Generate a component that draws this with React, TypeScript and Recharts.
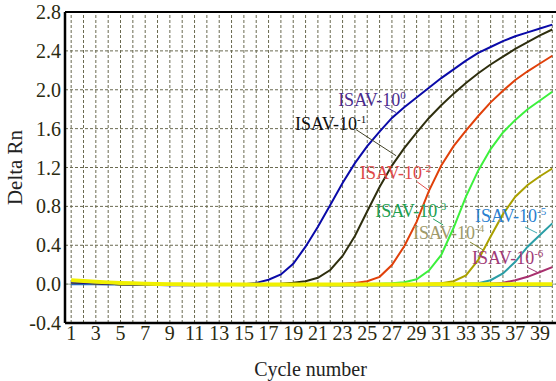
import {
  LineChart,
  Line,
  XAxis,
  YAxis,
  CartesianGrid,
  ReferenceLine,
  ReferenceDot,
} from "recharts";

const cycles = [
  1, 2, 3, 4, 5, 6, 7, 8, 9, 10, 11, 12, 13, 14, 15, 16, 17, 18, 19, 20,
  21, 22, 23, 24, 25, 26, 27, 28, 29, 30, 31, 32, 33, 34, 35, 36, 37, 38, 39, 40,
];

const xTicks = [1, 3, 5, 7, 9, 11, 13, 15, 17, 19, 21, 23, 25, 27, 29, 31, 33, 35, 37, 39];
const yTicks = [-0.4, 0, 0.4, 0.8, 1.2, 1.6, 2.0, 2.4, 2.8];

// Delta Rn per cycle
const isav0 = [
  0.02, 0.015, 0.01, 0.005, 0, -0.005, -0.008, -0.01, -0.012, -0.012,
  -0.012, -0.01, -0.008, -0.005, 0.0, 0.013, 0.045, 0.1, 0.21, 0.385,
  0.59, 0.815, 1.04, 1.245, 1.42, 1.57, 1.71, 1.82, 1.92, 2.02,
  2.12, 2.21, 2.3, 2.38, 2.44, 2.5, 2.55, 2.59, 2.63, 2.67,
];
const isav1 = [
  0.02, 0.015, 0.01, 0.005, 0, 0, -0.002, -0.003, -0.004, -0.004,
  -0.004, -0.003, -0.002, -0.002, 0, 0, 0.002, 0.005, 0.015, 0.03,
  0.065, 0.145, 0.29, 0.495, 0.75, 1.0, 1.22, 1.4, 1.56, 1.71,
  1.84, 1.96, 2.07, 2.17, 2.26, 2.34, 2.42, 2.49, 2.56, 2.62,
];
const isav2 = [
  0.02, 0.015, 0.01, 0.005, 0, 0, 0, -0.002, -0.003, -0.003,
  -0.003, -0.003, -0.002, -0.002, -0.001, 0, 0, 0, 0, 0,
  0, 0.002, 0.005, 0.012, 0.03, 0.075, 0.196, 0.39, 0.64, 0.96,
  1.22, 1.42, 1.58, 1.73, 1.87, 1.99, 2.1, 2.19, 2.27, 2.35,
];
const isav3 = [
  0.02, 0.015, 0.01, 0.005, 0, 0, 0, 0, 0, 0,
  0, 0, 0, 0, 0, 0, 0, 0, 0, 0,
  0, 0, 0, 0, 0.002, 0.005, 0.01, 0.02, 0.05, 0.14,
  0.3, 0.58, 0.9, 1.17, 1.39, 1.56, 1.69, 1.8, 1.89, 1.98,
];
const isav4 = [
  0.02, 0.015, 0.01, 0.005, 0, 0, 0, 0, 0, 0,
  0, 0, 0, 0, 0, 0, 0, 0, 0, 0,
  0, 0, 0, 0, 0, 0, 0, 0, 0.002, 0.005,
  0.01, 0.03, 0.09, 0.25, 0.49, 0.72, 0.9, 1.02, 1.11, 1.19,
];
const isav5 = [
  0.02, 0.015, 0.01, 0.005, 0, 0, 0, 0, 0, 0,
  0, 0, 0, 0, 0, 0, 0, 0, 0, 0,
  0, 0, 0, 0, 0, 0, 0, 0, 0, 0,
  0, 0.002, 0.005, 0.01, 0.04, 0.11, 0.23, 0.385, 0.505, 0.625,
];
const isav6 = [
  0.02, 0.015, 0.01, 0.005, 0, 0, 0, 0, 0, 0,
  0, 0, 0, 0, 0, 0, 0, 0, 0, 0,
  0, 0, 0, 0, 0, 0, 0, 0, 0, 0,
  0, 0, 0, 0, 0.005, 0.015, 0.04, 0.075, 0.125, 0.175,
];
const ntc = [
  0.0, 0.0, -0.002, -0.004, -0.005, -0.006, -0.007, -0.008, -0.008, -0.009,
  -0.009, -0.01, -0.01, -0.01, -0.011, -0.011, -0.011, -0.012, -0.012, -0.012,
  -0.012, -0.013, -0.013, -0.013, -0.013, -0.014, -0.014, -0.014, -0.014, -0.015,
  -0.015, -0.015, -0.015, -0.016, -0.016, -0.016, -0.017, -0.017, -0.018, -0.018,
];
const baseline = [
  0.04, 0.032, 0.025, 0.018, 0.012, 0.008, 0.004, 0.002, 0, -0.002,
  -0.003, -0.004, -0.005, -0.005, -0.005, -0.005, -0.005, -0.005, -0.005, -0.005,
  -0.005, -0.005, -0.005, -0.004, -0.004, -0.004, -0.003, -0.003, -0.003, -0.002,
  -0.002, -0.002, -0.001, -0.001, -0.001, 0, 0, 0, 0, 0,
];

const data = cycles.map((c, i) => ({
  cycle: c,
  s0: isav0[i],
  s1: isav1[i],
  s2: isav2[i],
  s3: isav3[i],
  s4: isav4[i],
  s5: isav5[i],
  s6: isav6[i],
  ntc: ntc[i],
  base: baseline[i],
}));

const series = [
  { key: "ntc", color: "#2a6ab8", width: 2 },
  { key: "s6", color: "#a8306e", width: 2 },
  { key: "s5", color: "#2a9ea6", width: 2 },
  { key: "s4", color: "#aaa000", width: 2 },
  { key: "s3", color: "#3cf03c", width: 2 },
  { key: "s2", color: "#e0400a", width: 2 },
  { key: "s1", color: "#2e2e0e", width: 2 },
  { key: "s0", color: "#0a0aa8", width: 2 },
  { key: "base", color: "#f0f000", width: 4 },
];

// callout text (data coords of text start) and leader line
const callouts = [
  { exp: "0", tx: 22.64, ty: 1.837, color: "#4a2a8c", line: "#4a3a9a", a: [26.45, 1.827], b: [27.34, 1.765] },
  { exp: "-1", tx: 19.15, ty: 1.589, color: "#111111", line: "#44442a", a: [24.1, 1.589], b: [27.34, 1.321] },
  { exp: "-2", tx: 24.42, ty: 1.084, color: "#e04848", line: "#e05050", a: [29.04, 1.053], b: [29.93, 0.97] },
  { exp: "-3", tx: 25.64, ty: 0.691, color: "#20a050", line: "#20a060", a: [30.34, 0.671], b: [31.15, 0.609] },
  { exp: "-4", tx: 28.71, ty: 0.464, color: "#a09a6a", line: "#8a8a30", a: [33.33, 0.433], b: [34.39, 0.351] },
  { exp: "-5", tx: 33.74, ty: 0.64, color: "#2a7fd0", line: "#3aaab0", a: [37.79, 0.588], b: [38.76, 0.526] },
  { exp: "-6", tx: 33.5, ty: 0.206, color: "#a03a78", line: "#a03a78", a: [37.95, 0.175], b: [38.76, 0.124] },
];

const serif = "'Liberation Serif', 'Times New Roman', serif";
const gridColor = "#6a6a50";

export default function App() {
  return (
    <div style={{ position: "absolute", left: 0, top: 0, background: "#fff" }}>
      <LineChart
        width={556}
        height={381}
        data={data}
        margin={{ top: 12, right: 0, bottom: 0, left: 0 }}
      >
        <CartesianGrid vertical={false} stroke={gridColor} strokeDasharray="3 2" />
        {cycles.map((c) => (
          <ReferenceLine key={c} x={c} stroke={gridColor} strokeDasharray="3 2" />
        ))}
        <ReferenceLine y={0} stroke="#98aa98" strokeWidth={1} />
        <ReferenceLine y={2.8} stroke="#000" strokeWidth={2} />
        <XAxis
          dataKey="cycle"
          type="number"
          domain={[0.5, 40.3]}
          ticks={xTicks}
          interval={0}
          height={58}
          tickLine={false}
          tickSize={0}
          tickMargin={3}
          axisLine={{ stroke: "#000", strokeWidth: 2.5 }}
          tick={{ fill: "#2a2a10", fontSize: 20, fontFamily: serif }}
          label={{
            value: "Cycle number",
            position: "insideBottom",
            offset: 5,
            fill: "#222",
            fontSize: 20,
            fontFamily: serif,
          }}
        />
        <YAxis
          type="number"
          domain={[-0.4, 2.8]}
          ticks={yTicks}
          interval={0}
          width={65}
          tickLine={false}
          tickSize={0}
          tickMargin={4}
          axisLine={{ stroke: "#000", strokeWidth: 2.5 }}
          tickFormatter={(v: number) => v.toFixed(1)}
          tick={{ fill: "#2a2a10", fontSize: 20, fontFamily: serif }}
          label={{
            content: (p: any) => {
              const vb = p.viewBox || { x: 0, y: 12, height: 311 };
              const x = vb.x + 22;
              const y = vb.y + vb.height / 2;
              return (
                <text
                  x={x}
                  y={y}
                  transform={`rotate(-90 ${x} ${y})`}
                  textAnchor="middle"
                  fill="#222"
                  fontSize={21}
                  fontFamily={serif}
                >
                  Delta Rn
                </text>
              );
            },
          }}
        />
        {series.map((s) => (
          <Line
            key={s.key}
            dataKey={s.key}
            type="linear"
            stroke={s.color}
            strokeWidth={s.width}
            dot={false}
            activeDot={false}
            isAnimationActive={false}
          />
        ))}
        {callouts.map((c) => (
          <ReferenceLine
            key={"l" + c.exp}
            segment={[
              { x: c.a[0], y: c.a[1] },
              { x: c.b[0], y: c.b[1] },
            ]}
            stroke={c.line}
            strokeWidth={1}
          />
        ))}
        {callouts.map((c) => (
          <ReferenceDot
            key={"t" + c.exp}
            x={c.tx}
            y={c.ty}
            r={0}
            shape={(p: any) => (
              <text
                x={p.cx}
                y={p.cy}
                fill={c.color}
                fontSize={18}
                fontFamily={serif}
              >
                ISAV-10
                <tspan dy={-7} fontSize={11}>
                  {c.exp}
                </tspan>
              </text>
            )}
          />
        ))}
      </LineChart>
    </div>
  );
}
